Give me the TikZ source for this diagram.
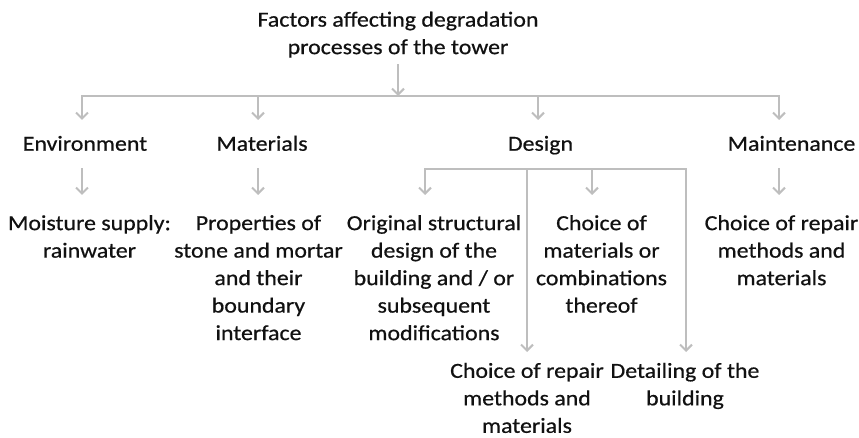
\documentclass[tikz,border=0pt]{standalone}
\usepackage{fontspec}
\setmainfont{Carlito}[FakeStretch=1.11, FakeBold=0.6]
\usetikzlibrary{arrows.meta}
\definecolor{treeink}{HTML}{111111}
\definecolor{treegrey}{HTML}{BEBEBE}

\begin{document}
\begin{tikzpicture}[
  x=1pt,
  y=-1pt,
  every node/.style={font=\fontsize{21.5}{27.5}\selectfont, treeink},
  box/.style={anchor=north, inner sep=0pt, align=center,
              execute at begin node=\strut, execute at end node=\strut},
  link/.style={treegrey, line width=2pt, line cap=rect},
  arrow/.style={treegrey, line width=2pt,
                -{Straight Barb[length=6pt, width=12pt]}}
]
  \useasboundingbox (0,0) rectangle (859,438);

  %% ---- 標題與第一層 ------------------------------------------------------
  \node[box] (tower)  at (398,11.5)   {Factors affecting degradation\\processes of the tower};
  \node[box] (env)    at (85,131.3)   {Environment};
  \node[box] (mat)    at (262,131.3)  {Materials};
  \node[box] (design) at (540.5,131.3) {Design};
  \node[box] (maint)  at (791.5,131.3) {Maintenance};

  %% ---- 第二層 ------------------------------------------------------------
  \node[box] (moist)   at (89.5,215)  {Moisture supply:\\rainwater};
  \node[box] (stone)   at (258.5,215) {Properties of\\stone and mortar\\and their\\boundary\\interface};
  \node[box] (struct)  at (434,215)   {Original structural\\design of the\\building and / or\\subsequent\\modifications};
  \node[box] (choice)  at (601.5,215) {Choice of\\materials or\\combinations\\thereof};
  \node[box] (mrepair) at (781.5,215) {Choice of repair\\methods and\\materials};
  \node[box] (drepair) at (527,362.7) {Choice of repair\\methods and\\materials};
  \node[box] (detail)  at (685,362.7) {Detailing of the\\building};

  %% ---- 主橫線 ------------------------------------------------------------
  \coordinate (bar)    at (398,96);
  \coordinate (hubenv) at (82,96);
  \coordinate (hubmat) at (258,96);
  \coordinate (hubdes) at (538,96);
  \coordinate (hubmnt) at (779,96);

  \draw[arrow, shorten <=1.5pt] (tower.south) -- (bar);
  \draw[link] (hubenv) -- (hubmnt);
  \foreach \h/\n in {hubenv/env, hubmat/mat, hubdes/design, hubmnt/maint}
    \draw[arrow, shorten >=11.3pt] (\h) -- (\h |- \n.north);

  %% ---- 第一層往下的箭頭 --------------------------------------------------
  \foreach \h/\a/\b in {hubenv/env/moist, hubmat/mat/stone, hubmnt/maint/mrepair}
    \draw[arrow, shorten <=9.3pt, shorten >=20pt] (\h |- \a.south) -- (\h |- \b.north);

  %% ---- Design 下的分支 ---------------------------------------------------
  \coordinate (subw) at (425,169);
  \coordinate (subm) at (527,169);
  \coordinate (subc) at (592,169);
  \coordinate (sube) at (686,169);

  \draw[link] (subw) -- (sube);
  \draw[arrow, shorten >=20pt]   (subw) -- (subw |- struct.north);
  \draw[arrow, shorten >=20pt]   (subc) -- (subc |- choice.north);
  \draw[arrow, shorten >=10.7pt] (subm) -- (subm |- drepair.north);
  \draw[arrow, shorten >=10.7pt] (sube) -- (sube |- detail.north);
\end{tikzpicture}
\end{document}
